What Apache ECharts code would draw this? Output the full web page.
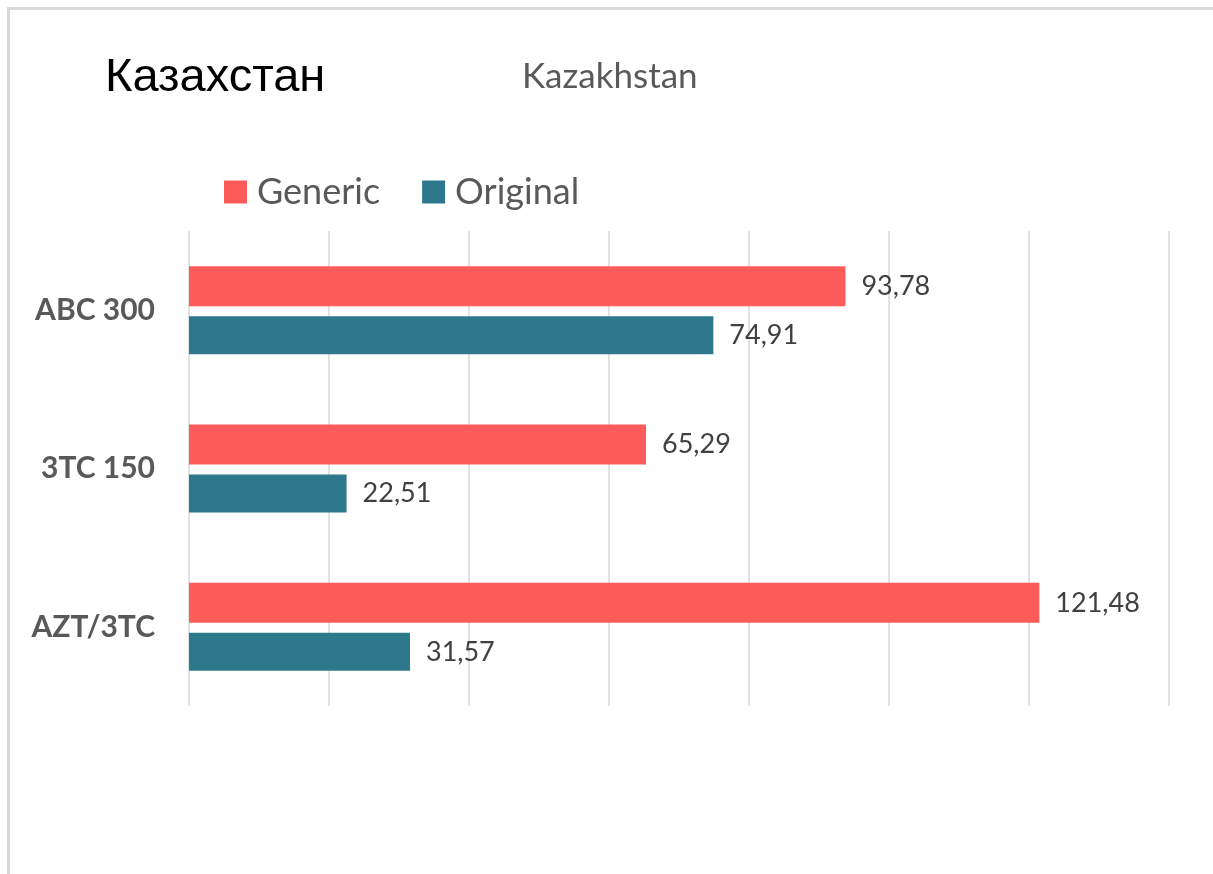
<!DOCTYPE html>
<html>
<head>
<meta charset="utf-8">
<script src="https://cdn.jsdelivr.net/npm/echarts@6/dist/echarts.min.js"></script>
<style>
html, body { margin: 0; padding: 0; background: #fff; }
#chart {
    position: absolute;
    left: 7px;
    top: 7px;
    width: 1206px;
    height: 867px;
    border-top: 3px solid #d9d9d9;
    border-left: 3px solid #d9d9d9;
}
</style>
</head>
<body>
<div id="chart"></div>
<script>
const categories = ['ABC 300', '3TC 150', 'AZT/3TC']
const genericValues = [93.78, 65.29, 121.48]
const originalValues = [74.91, 22.51, 31.57]
const seriesNames = ['Generic', 'Original']

const fmt = p => p.value.toFixed(2).replace('.', ',')

const myChart = echarts.init(document.getElementById('chart'))
myChart.setOption({
    animation: false,
    title: [{
        text: 'Казахстан',
        left: 90,
        top: 40,
        textStyle: { fontFamily: 'Liberation Sans', fontSize: 47, fontWeight: 'normal', color: '#000' }
    }, {
        text: 'Kazakhstan',
        left: 507,
        top: 44,
        textStyle: { fontFamily: 'Lato', fontSize: 35, fontWeight: 'normal', color: '#595959' }
    }],
    legend: {
        data: seriesNames,
        left: 209,
        top: 159,
        itemWidth: 23,
        itemHeight: 23,
        itemGap: 42,
        icon: 'rect',
        textStyle: { fontFamily: 'Lato', fontSize: 36, color: '#595959', padding: [0, 0, 0, 5] }
    },
    grid: {
        left: 179,
        right: 1213 - 1166,
        top: 221,
        bottom: 874 - 703,
        containLabel: false
    },
    xAxis: {
        type: 'value',
        min: 0,
        max: 140,
        interval: 20,
        axisLabel: { show: false },
        axisLine: { show: false },
        axisTick: { show: false },
        splitLine: { lineStyle: { color: '#d9d9d9', width: 1.5 } }
    },
    yAxis: {
        type: 'category',
        data: categories,
        inverse: true,
        axisLine: { show: false },
        axisTick: { show: false },
        axisLabel: {
            margin: 34,
            fontFamily: 'Lato',
            fontSize: 30,
            fontWeight: 'bold',
            color: '#595959'
        }
    },
    series: [{
        name: seriesNames[0],
        type: 'bar',
        data: genericValues,
        barWidth: 40,
        barGap: '25%',
        itemStyle: { color: '#FD5C5A' },
        label: {
            show: true,
            position: 'right',
            distance: 16,
            formatter: fmt,
            fontFamily: 'Lato',
            fontSize: 27,
            color: '#404040'
        }
    }, {
        name: seriesNames[1],
        type: 'bar',
        data: originalValues,
        barWidth: 38,
        itemStyle: { color: '#2E788C' },
        label: {
            show: true,
            position: 'right',
            distance: 16,
            formatter: fmt,
            fontFamily: 'Lato',
            fontSize: 27,
            color: '#404040'
        }
    }]
})
window.addEventListener('resize', () => {
    if (myChart) myChart.resize()
})
</script>
</body>
</html>
